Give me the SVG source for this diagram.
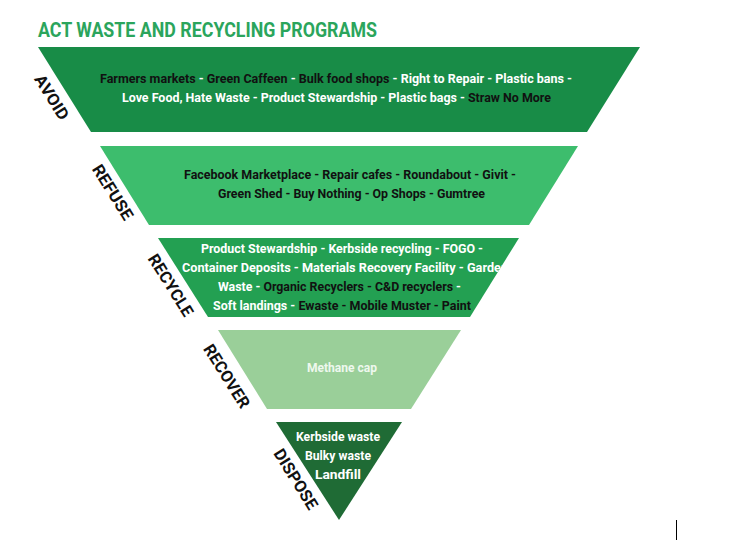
<svg xmlns="http://www.w3.org/2000/svg" width="730" height="541" viewBox="0 0 730 541">
<style>
  .t{font-family:Roboto,"Liberation Sans",sans-serif;font-weight:bold;font-size:13.5px;text-anchor:middle}
  .w{fill:#ffffff}
  .k{fill:#111111}
  .side{font-family:Roboto,"Liberation Sans",sans-serif;font-weight:bold;font-size:16.5px;fill:#111;text-anchor:middle}
  .title{font-family:Roboto,"Liberation Sans",sans-serif;font-weight:bold;font-size:20.5px;fill:#2ba55c}
</style>
<defs>
  <clipPath id="clip3"><polygon points="158,238 519,238 470,317 208,317"/></clipPath>
</defs>
<rect width="730" height="541" fill="#ffffff"/>
<text class="title" x="38" y="37" textLength="339" lengthAdjust="spacingAndGlyphs">ACT WASTE AND RECYCLING PROGRAMS</text>

<g id="avoid">
  <polygon points="38,47 640,47 587,132 91,132" fill="#188c47"/>
  <text class="t" x="336" y="83" textLength="472" lengthAdjust="spacingAndGlyphs"><tspan class="k">Farmers markets</tspan><tspan class="w"> - </tspan><tspan class="k">Green Caffeen</tspan><tspan class="w"> - </tspan><tspan class="k">Bulk food shops</tspan><tspan class="w"> - Right to Repair - Plastic bans -</tspan></text>
  <text class="t" x="336.5" y="102" textLength="429" lengthAdjust="spacingAndGlyphs"><tspan class="w">Love Food, Hate Waste - Product Stewardship - Plastic bags - </tspan><tspan class="k">Straw No More</tspan></text>
  <text class="side" transform="translate(52,97) rotate(58)" y="6" textLength="50" lengthAdjust="spacingAndGlyphs">AVOID</text>
</g>

<g id="refuse">
  <polygon points="100,146 578,146 529,225 149,225" fill="#3dbd6d"/>
  <text class="t k" x="350" y="179" textLength="332" lengthAdjust="spacingAndGlyphs">Facebook Marketplace - Repair cafes - Roundabout - Givit -</text>
  <text class="t k" x="351.5" y="198" textLength="267" lengthAdjust="spacingAndGlyphs">Green Shed - Buy Nothing - Op Shops - Gumtree</text>
  <text class="side" transform="translate(113,192) rotate(58)" y="6" textLength="62" lengthAdjust="spacingAndGlyphs">REFUSE</text>
</g>

<g id="recycle">
  <polygon points="158,238 519,238 470,317 208,317" fill="#23a052"/>
  <text class="t w" x="342" y="253" textLength="282" lengthAdjust="spacingAndGlyphs">Product Stewardship - Kerbside recycling - FOGO -</text>
  <text class="t w" x="345" y="272" textLength="326" lengthAdjust="spacingAndGlyphs" clip-path="url(#clip3)">Container Deposits - Materials Recovery Facility - Garden</text>
  <text class="t" x="339.5" y="291" textLength="243" lengthAdjust="spacingAndGlyphs"><tspan class="w">Waste - </tspan><tspan class="k">Organic Recyclers - C&amp;D recyclers</tspan><tspan class="w"> -</tspan></text>
  <text class="t" x="342" y="310" textLength="258" lengthAdjust="spacingAndGlyphs"><tspan class="w">Soft landings - </tspan><tspan class="k">Ewaste - Mobile Muster - Paint</tspan></text>
  <text class="side" transform="translate(171,285) rotate(58)" y="6" textLength="70" lengthAdjust="spacingAndGlyphs">RECYCLE</text>
</g>

<g id="recover">
  <polygon points="218,330 461,330 411,409 267,409" fill="#9acf99"/>
  <text class="t" x="342" y="372" fill="#eef8ee" textLength="70" lengthAdjust="spacingAndGlyphs">Methane cap</text>
  <text class="side" transform="translate(227,376) rotate(58)" y="6" textLength="72" lengthAdjust="spacingAndGlyphs">RECOVER</text>
</g>

<g id="dispose">
  <polygon points="276,422 402,422 339,520" fill="#1f6b35"/>
  <text class="t w" x="338" y="441" textLength="84" lengthAdjust="spacingAndGlyphs">Kerbside waste</text>
  <text class="t w" x="338" y="460" textLength="66" lengthAdjust="spacingAndGlyphs">Bulky waste</text>
  <text class="t w" x="338" y="479" textLength="46" lengthAdjust="spacingAndGlyphs">Landfill</text>
  <text class="side" transform="translate(296,479) rotate(58)" y="6" textLength="68" lengthAdjust="spacingAndGlyphs">DISPOSE</text>
</g>

<line x1="676.5" y1="520" x2="676.5" y2="540" stroke="#000" stroke-width="1"/>
</svg>
